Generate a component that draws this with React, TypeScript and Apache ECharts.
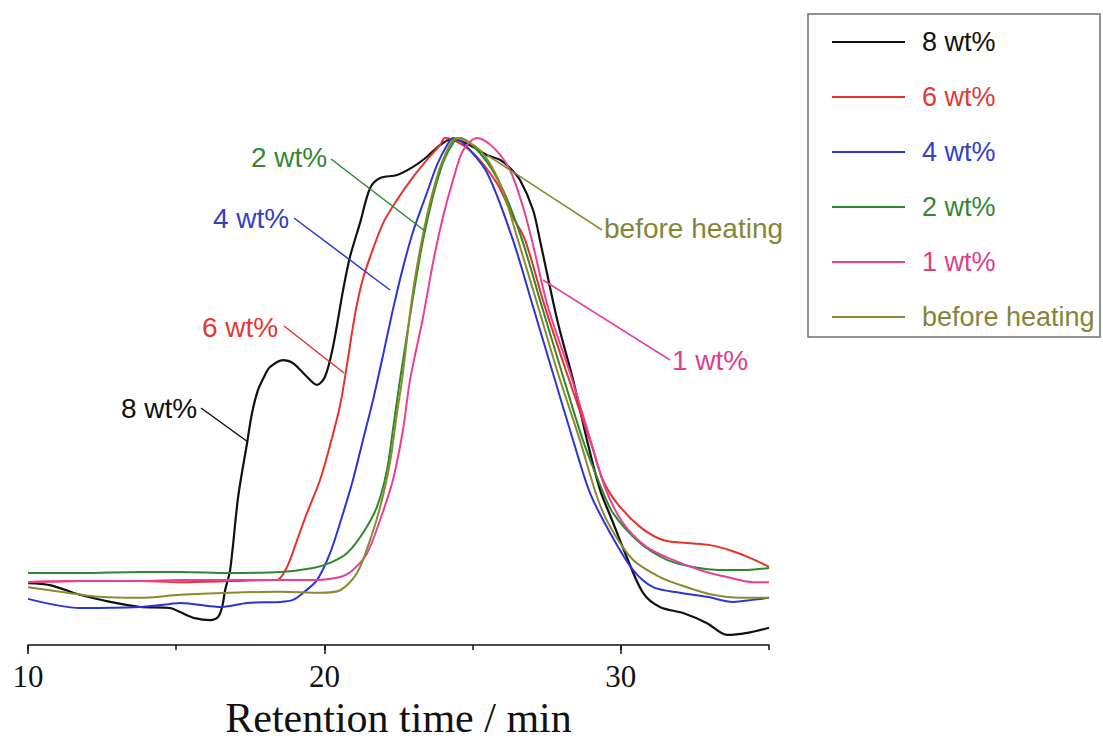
import React, { useEffect, useRef } from "react";
import * as echarts from "echarts";

const seriesNames = ["8 wt%", "6 wt%", "4 wt%", "2 wt%", "1 wt%", "before heating"];
const lineColors = ["#111111", "#e8322c", "#2a35d8", "#2c8a2c", "#e8409a", "#8b8b2e"];
const textColors = ["#111111", "#e03a36", "#3340c8", "#338833", "#dc3f8e", "#85853a"];

const xTicks = [10, 20, 30];

const wt8: [number, number][] = [
  [10, 12.2], [10.74, 11.8], [11.75, 9.9], [12.77, 8.5], [13.78, 7.5], [14.79, 7.3], [15.13, 6.5],
  [15.63, 5.3], [16.14, 4.9], [16.41, 5.5], [16.55, 7.5], [16.65, 10.8], [16.82, 14.8], [17.09, 29.2],
  [17.39, 39.8], [17.56, 45.8], [17.76, 50.3], [18.0, 53.3], [18.16, 54.8], [18.6, 56.2], [18.94, 55.6],
  [19.41, 52.9], [19.75, 51.3], [20.02, 52.9], [20.29, 58.8], [20.63, 70.0], [20.86, 76.5], [21.2, 83.2],
  [21.54, 90.1], [21.88, 92.1], [22.45, 92.7], [22.99, 94.3], [23.46, 96.3], [23.9, 98.6], [24.3, 99.8],
  [24.68, 99.2], [25.08, 98.0], [25.49, 96.6], [25.92, 95.7], [26.26, 94.1], [26.6, 91.7], [27.04, 85.8],
  [27.27, 79.9], [27.88, 63.5], [28.39, 52.3], [28.86, 40.4], [29.3, 30.6], [29.7, 24.7], [30.21, 17.2],
  [30.75, 10.3], [31.32, 7.5], [32.1, 6.3], [32.91, 4.3], [33.58, 2.0], [34.26, 2.4], [35, 3.4],
];

const wt6: [number, number][] = [
  [10, 12.4], [11.75, 12.6], [13.78, 12.6], [15.13, 12.4], [16.82, 12.6], [18.16, 12.8], [18.4, 12.8],
  [18.74, 15.4], [19.08, 20.7], [19.41, 26.0], [19.85, 32.5], [20.19, 39.4], [20.53, 47.3], [20.76, 55.2],
  [21.03, 65.1], [21.27, 71.6], [21.54, 76.5], [21.98, 83.2], [22.45, 87.8], [22.99, 92.3], [23.46, 95.7],
  [23.9, 98.6], [24.07, 100], [24.91, 97.6], [25.82, 91.1], [26.36, 84.4], [26.77, 79.9], [27.44, 66.7],
  [28.18, 53.6], [29.03, 39.1], [29.4, 32.5], [29.87, 28.0], [30.65, 23.3], [31.42, 20.7],
  [32.23, 20.1], [33.01, 19.7], [33.68, 18.7], [34.36, 17.2], [35, 15.4],
];

const wt4: [number, number][] = [
  [10, 9.1], [11.75, 7.3], [13.78, 7.5], [14.79, 8.1], [15.13, 8.3], [16.55, 7.5], [17.39, 8.3],
  [18.5, 8.5], [18.94, 8.9], [19.28, 10.3], [19.75, 12.8], [20.19, 18.1], [20.63, 26.0], [20.96, 32.5],
  [21.3, 40.4], [21.64, 48.3], [21.98, 57.2], [22.31, 66.1], [22.65, 74.4], [22.99, 81.5], [23.46, 89.2],
  [23.8, 94.7], [24.14, 98.6], [24.34, 100], [24.68, 99.0], [25.49, 93.1], [26.36, 79.9], [27.04, 66.7],
  [27.71, 53.6], [28.39, 40.4], [28.96, 30.0], [29.64, 22.1], [30.41, 14.8], [31.09, 11.4], [32.0, 10.3],
  [32.91, 9.5], [33.79, 8.5], [34.46, 8.9], [35, 9.3],
];

const wt2: [number, number][] = [
  [10, 14.2], [11.75, 14.2], [13.78, 14.4], [15.13, 14.4], [16.82, 14.2], [18.5, 14.4], [19.62, 15.2],
  [20.19, 16.2], [20.76, 18.1], [21.3, 22.1], [21.77, 27.2], [22.11, 34.5], [22.31, 42.4], [22.55, 52.3],
  [22.99, 68.6], [23.33, 79.9], [23.66, 88.4], [24.0, 95.1], [24.34, 99.0], [24.57, 100], [25.35, 96.3],
  [26.03, 89.7], [26.67, 79.9], [27.34, 66.7], [28.02, 53.6], [28.72, 40.4], [29.3, 31.6],
  [29.74, 26.0], [30.65, 20.1], [31.56, 16.8], [32.44, 15.4], [33.35, 14.8], [34.26, 14.8], [35, 15.2],
];

const wt1: [number, number][] = [
  [10, 12.4], [11.75, 12.6], [13.78, 12.6], [15.13, 12.8], [16.82, 12.8], [18.5, 12.8], [19.62, 12.8],
  [20.53, 13.4], [20.96, 14.8], [21.44, 18.1], [21.88, 24.7], [22.31, 32.5], [22.65, 42.4], [22.89, 52.3],
  [23.33, 64.7], [23.66, 75.3], [24.0, 84.4], [24.34, 91.7], [24.68, 97.6], [25.15, 100], [25.69, 98.2],
  [26.26, 93.7], [26.7, 86.4], [27.0, 79.9], [27.54, 66.7], [28.29, 53.6], [29.03, 39.4], [29.47, 31.0],
  [30.07, 24.1], [30.88, 19.3], [31.76, 16.8], [32.67, 14.8], [33.58, 13.4], [34.46, 12.4], [35, 12.4],
];

const beforeHeating: [number, number][] = [
  [10, 11.4], [11.08, 10.5], [12.43, 9.5], [13.78, 9.3], [15.13, 9.9], [16.82, 10.3], [18.5, 10.5],
  [19.85, 10.3], [20.53, 10.8], [21.1, 14.2], [21.54, 20.7], [21.88, 27.2], [22.21, 35.9], [22.45, 45.8],
  [22.62, 52.3], [22.96, 68.6], [23.29, 79.9], [23.63, 88.8], [24.0, 95.7], [24.47, 100], [25.25, 97.6],
  [25.92, 91.1], [26.53, 79.9], [27.21, 66.7], [27.88, 53.6], [28.62, 40.4], [29.2, 29.2],
  [29.64, 23.3], [30.41, 16.8], [31.32, 13.4], [32.23, 11.4], [33.11, 9.9], [34.02, 9.3], [35, 9.3],
];

const allData = [wt8, wt6, wt4, wt2, wt1, beforeHeating];

// annotation labels: text, color index, text anchor (left x, middle y), leader line
const annotations = [
  { text: "2 wt%", c: 3, x: 251, y: 157, line: [331, 159, 425, 231] },
  { text: "4 wt%", c: 2, x: 213, y: 218, line: [294, 218, 390, 290] },
  { text: "6 wt%", c: 1, x: 202, y: 327, line: [284, 326, 344, 373] },
  { text: "8 wt%", c: 0, x: 121, y: 408, line: [201, 408, 248, 442] },
  { text: "before heating", c: 5, x: 604, y: 228, line: [487, 155, 602, 230] },
  { text: "1 wt%", c: 4, x: 672, y: 360, line: [543, 280, 670, 360] },
];

const SANS = "'Liberation Sans', Arial, Helvetica, sans-serif";
const SERIF = "'Liberation Serif', 'Times New Roman', Times, serif";

export default function App() {
  const ref = useRef<HTMLDivElement>(null);
  useEffect(() => {
    if (!ref.current) return;
    const chart = echarts.init(ref.current, undefined, { renderer: "svg" });
    const graphics: any[] = [
      {
        type: "rect",
        shape: { x: 808, y: 14, width: 292, height: 323 },
        style: { fill: "none", stroke: "#6f6f6f", lineWidth: 1.5 },
        z: 10,
      },
    ];
    annotations.forEach((a) => {
      graphics.push({
        type: "line",
        shape: { x1: a.line[0], y1: a.line[1], x2: a.line[2], y2: a.line[3] },
        style: { stroke: lineColors[a.c], lineWidth: 1.5 },
        z: 10,
      });
      graphics.push({
        type: "text",
        x: a.x,
        y: a.y,
        style: {
          text: a.text,
          fill: textColors[a.c],
          font: `28px ${SANS}`,
          textVerticalAlign: "middle",
          textAlign: "left",
        },
        z: 10,
      });
    });

    chart.setOption({
      animation: false,
      backgroundColor: "#ffffff",
      grid: {
        left: 28,
        right: 334,
        top: 138,
        bottom: 95,
        containLabel: false,
        outerBoundsMode: "none",
      },
      legend: {
        orient: "vertical",
        left: 832,
        top: 27,
        padding: 0,
        itemWidth: 73,
        itemHeight: 2,
        itemGap: 25,
        icon: "rect",
        selectedMode: false,
        textStyle: {
          fontFamily: SANS,
          fontSize: 27,
          lineHeight: 30,
          padding: [0, 0, 0, 12],
        },
        data: seriesNames.map((n, i) => ({ name: n, textStyle: { color: textColors[i] } })),
      },
      xAxis: [
        {
          type: "value",
          min: 10,
          max: 35,
          interval: 10,
          name: "Retention time / min",
          nameLocation: "middle",
          nameGap: 50,
          nameTextStyle: { fontFamily: SERIF, fontSize: 42, lineHeight: 42, color: "#111" },
          axisLine: { show: true, lineStyle: { color: "#111", width: 1.5 } },
          axisTick: { show: true, length: 9, lineStyle: { color: "#111", width: 1.5 } },
          axisLabel: {
            show: true,
            margin: 16,
            showMaxLabel: false,
            fontFamily: SERIF,
            fontSize: 31,
            color: "#111",
            formatter: (v: number) => (xTicks.includes(v) ? String(v) : ""),
          },
          splitLine: { show: false },
        },
        {
          type: "value",
          min: 10,
          max: 35,
          interval: 5,
          position: "bottom",
          axisLine: { show: false },
          axisTick: { show: true, length: 5, lineStyle: { color: "#111", width: 1.5 } },
          axisLabel: { show: false },
          splitLine: { show: false },
        },
      ],
      yAxis: { type: "value", min: 0, max: 100, show: false },
      series: seriesNames.map((n, i) => ({
        name: n,
        type: "line",
        xAxisIndex: 0,
        data: allData[i],
        showSymbol: false,
        smooth: 0.3,
        color: lineColors[i],
        lineStyle: { color: lineColors[i], width: i === 0 ? 2.2 : 2 },
      })),
      graphic: graphics,
    });
    return () => chart.dispose();
  }, []);
  return (
    <div
      ref={ref}
      style={{ position: "absolute", left: 0, top: 0, width: 1103, height: 740, background: "#fff" }}
    />
  );
}
